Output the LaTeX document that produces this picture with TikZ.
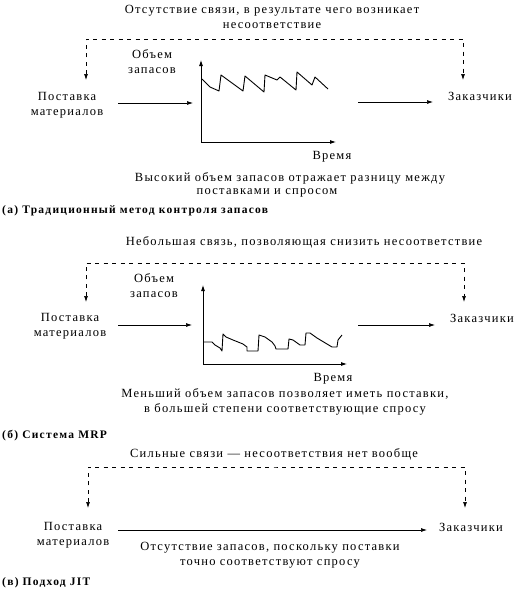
\documentclass[tikz,border=0pt]{standalone}
\usepackage{fontspec}
\setmainfont{Liberation Serif}[LetterSpace=10]
\newfontfamily\lblfont{Liberation Serif}[LetterSpace=11]
\usetikzlibrary{arrows.meta}
\begin{document}
\begin{tikzpicture}[x=1pt,y=-1pt,
  txt/.style={inner sep=0pt,align=center,font=\fontsize{12.5}{15}\selectfont},
  lbl/.style={inner sep=0pt,anchor=west,font=\lblfont\fontsize{11.5}{14}\selectfont\bfseries},
  flow/.style={line width=0.7pt,-{Latex[length=6pt,width=4pt]}},
  dlink/.style={line width=0.7pt,dash pattern=on 4pt off 4.5pt,{Latex[length=6pt,width=4pt]}-{Latex[length=6pt,width=4pt]}},
  axis/.style={line width=0.8pt,-{Latex[length=6pt,width=4pt]}},
  curve/.style={line width=0.9pt,line join=round}]
\useasboundingbox (0,0) rectangle (529,589);
% ---------- panel (a)
\node[txt] (ta) at (272,17) {Отсутствие связи, в результате чего возникает\\несоответствие};
\node[txt] (va) at (152,62) {Объем\\запасов};
\node[txt] (sa) at (67,105) {Поставка\\материалов};
\node[txt] (ca) at (480,96) {Заказчики};
\node[txt] (tia) at (332,157) {Время};
\node[txt] (capa1) at (290,178) {Высокий объем запасов отражает разницу между};
\node[txt] (capa2) at (267,193) {поставками и спросом};
\node[lbl] (la) at (2,211) {(а) Традиционный метод контроля запасов};
\coordinate (a_o) at (201,142);
\coordinate (a_y) at (201,60);
\coordinate (a_x) at (336,142);
\draw[axis] (a_o) -- (a_y);
\draw[axis] (a_o) -- (a_x);
\coordinate (a_in0) at (118,103);
\coordinate (a_in1) at (193,103);
\coordinate (a_out0) at (358,102);
\coordinate (a_out1) at (433,102);
\draw[flow] (a_in0) -- (a_in1);
\draw[flow] (a_out0) -- (a_out1);
\coordinate (a_d1) at (86,80);
\coordinate (a_d2) at (463,80);
\coordinate (a_top) at (272,39);
\draw[dlink] (a_d1) |- (a_top) -| (a_d2);
\draw[curve] (202,79) -- (210,87) -- (219,91) -- (221,75) -- (243,91) -- (245,76) -- (264,92) -- (265,75) -- (277,80) -- (280,77) -- (296,90) -- (297,72) -- (312,85) -- (315,77) -- (328,89);
% ---------- panel (b)
\node[txt] (tb) at (304,242) {Небольшая связь, позволяющая снизить несоответствие};
\node[txt] (vb) at (154,286) {Объем\\запасов};
\node[txt] (sb) at (70,326) {Поставка\\материалов};
\node[txt] (cb) at (482,318) {Заказчики};
\node[txt] (tib) at (333,379) {Время};
\node[txt] (capb) at (285,402) {Меньший объем запасов позволяет иметь поставки,\\в большей степени соответствующие спросу};
\node[lbl] (lb) at (2,436) {(б) Система MRP};
\coordinate (b_o) at (203,364);
\coordinate (b_y) at (203,285);
\coordinate (b_x) at (347,364);
\draw[axis] (b_o) -- (b_y);
\draw[axis] (b_o) -- (b_x);
\coordinate (b_in0) at (118,325);
\coordinate (b_in1) at (192,325);
\coordinate (b_out0) at (358,325);
\coordinate (b_out1) at (435,325);
\draw[flow] (b_in0) -- (b_in1);
\draw[flow] (b_out0) -- (b_out1);
\coordinate (b_d1) at (86,302);
\coordinate (b_d2) at (464,302);
\coordinate (b_top) at (272,263);
\draw[dlink] (b_d1) |- (b_top) -| (b_d2);
\draw[curve] (203,342) -- (212,342) -- (215,345) -- (220,348) -- (222,351) -- (223,334) -- (226,337) -- (233,340) -- (243,344) -- (247,347) -- (247,351) -- (258,351) -- (259,335) -- (265,337) -- (272,342) -- (275,346) -- (276,349) -- (288,349) -- (289,339) -- (293,340) -- (300,345) -- (305,345) -- (306,333) -- (310,333) -- (317,338) -- (332,347) -- (337,347) -- (338,340) -- (342,335);
% ---------- panel (c)
\node[txt] (tc) at (274,454) {Сильные связи — несоответствия нет вообще};
\node[txt] (sc) at (73,535) {Поставка\\материалов};
\node[txt] (cc) at (471,527) {Заказчики};
\node[txt] (capc) at (270,555) {Отсутствие запасов, поскольку поставки\\точно соответствуют спросу};
\node[lbl] (lc) at (2,582.5) {(в) Подход JIT};
\coordinate (c_in0) at (118,530);
\coordinate (c_in1) at (427,530);
\draw[flow] (c_in0) -- (c_in1);
\coordinate (c_d1) at (88,508);
\coordinate (c_d2) at (465,508);
\coordinate (c_top) at (276,467);
\draw[dlink] (c_d1) |- (c_top) -| (c_d2);
\end{tikzpicture}
\end{document}
